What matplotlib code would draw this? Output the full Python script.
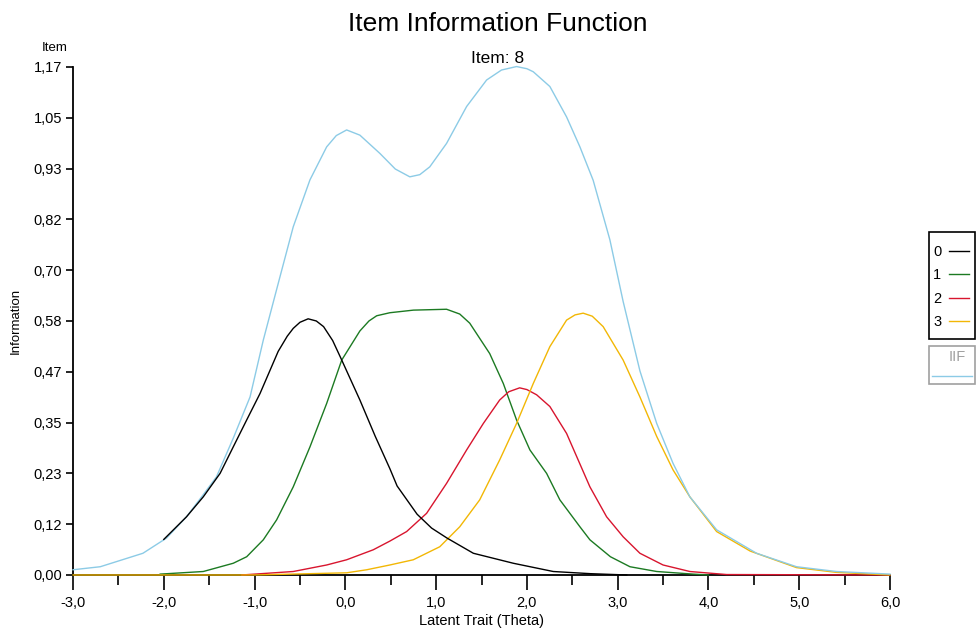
import numpy as np
import matplotlib
matplotlib.use("Agg")
import matplotlib.pyplot as plt
from matplotlib.lines import Line2D
from matplotlib.patches import Rectangle

plt.rcParams["font.family"] = ["Liberation Sans", "DejaVu Sans"]

# category information curves
theta_0 = [-2.0, -1.75, -1.565, -1.38, -1.235, -1.087, -0.94, -0.74, -0.64, -0.574, -0.5, -0.41,
           -0.32, -0.24, -0.14, -0.04, 0.16, 0.33, 0.49, 0.57, 0.79, 0.95, 1.12, 1.41, 1.85,
           2.29, 2.7, 3.1]
info_0 = [0.082, 0.134, 0.18, 0.234, 0.295, 0.357, 0.418, 0.515, 0.55, 0.568, 0.582, 0.59,
          0.585, 0.572, 0.54, 0.495, 0.403, 0.319, 0.245, 0.205, 0.14, 0.108, 0.085, 0.05, 0.027,
          0.008, 0.003, 0.0]

theta_1 = [-2.04, -1.565, -1.235, -1.087, -0.904, -0.757, -0.574, -0.39, -0.206, -0.04, 0.16,
           0.26, 0.345, 0.49, 0.75, 1.115, 1.26, 1.37, 1.59, 1.74, 1.886, 2.033, 2.217, 2.363,
           2.584, 2.694, 2.92, 3.135, 3.43, 3.83, 4.0]
info_1 = [0.002, 0.008, 0.027, 0.042, 0.081, 0.127, 0.203, 0.295, 0.395, 0.495, 0.562,
          0.585, 0.597, 0.604, 0.61, 0.612, 0.601, 0.58, 0.51, 0.441, 0.357, 0.288, 0.234, 0.173,
          0.111, 0.081, 0.042, 0.019, 0.008, 0.002, 0.0]

theta_2 = [-1.14, -0.574, -0.206, 0.014, 0.307, 0.49, 0.675, 0.895, 1.115, 1.336, 1.52, 1.70,
           1.8, 1.92, 2.0, 2.107, 2.253, 2.437, 2.694, 2.878, 3.06, 3.245, 3.5, 3.795, 4.2, 6.0]
info_2 = [0.0, 0.008, 0.023, 0.035, 0.058, 0.078, 0.1, 0.142, 0.211, 0.288, 0.349, 0.403,
          0.422, 0.431, 0.427, 0.415, 0.388, 0.326, 0.203, 0.134, 0.088, 0.05, 0.023, 0.008,
          0.001, 0.0]

theta_3 = [-3.0, -1.0, 0.014, 0.235, 0.49, 0.748, 1.04, 1.26, 1.48, 1.70, 1.886, 2.07, 2.253,
           2.437, 2.53, 2.62, 2.72, 2.84, 3.06, 3.245, 3.43, 3.61, 3.795, 4.09, 4.46, 4.97,
           5.41, 6.0]
info_3 = [0.0, 0.0, 0.005, 0.012, 0.023, 0.035, 0.065, 0.111, 0.173, 0.265, 0.349, 0.441, 0.526,
          0.587, 0.599, 0.603, 0.596, 0.572, 0.495, 0.41, 0.319, 0.242, 0.18, 0.1, 0.055, 0.017,
          0.006, 0.0]

theta_iif = [-3.0, -2.7, -2.23, -1.97, -1.75, -1.565, -1.42, -1.235, -1.05, -0.904, -0.72,
             -0.574, -0.39, -0.206, -0.1, 0.014, 0.16, 0.38, 0.55, 0.71, 0.82, 0.93, 1.115,
             1.336, 1.556, 1.72, 1.886, 2.0, 2.07, 2.253, 2.437, 2.584, 2.73, 2.914, 3.06, 3.245,
             3.43, 3.61, 3.795, 4.09, 4.53, 4.97, 5.41, 6.0]
info_iif = [0.012, 0.019, 0.05, 0.085, 0.134, 0.185, 0.226, 0.315, 0.41, 0.541, 0.687,
            0.802, 0.91, 0.986, 1.012, 1.025, 1.013, 0.971, 0.935, 0.917, 0.922, 0.94, 0.994,
            1.079, 1.14, 1.163, 1.171, 1.166, 1.159, 1.125, 1.055, 0.986, 0.909, 0.772, 0.63,
            0.47, 0.349, 0.257, 0.18, 0.104, 0.05, 0.019, 0.008, 0.002]

categories = ["0", "1", "2", "3"]
colors = ["#000000", "#1c7a22", "#d8152e", "#f2b705"]
iif_color = "#8ccbe6"

y_ticks = np.linspace(0, 1.17, 11)
y_tick_labels = ["0,00", "0,12", "0,23", "0,35", "0,47", "0,58", "0,70", "0,82", "0,93", "1,05", "1,17"]
x_ticks = [-3, -2, -1, 0, 1, 2, 3, 4, 5, 6]
x_tick_labels = ["-3,0", "-2,0", "-1,0", "0,0", "1,0", "2,0", "3,0", "4,0", "5,0", "6,0"]

fig = plt.figure(figsize=(9.79, 6.41), dpi=100)
ax = fig.add_axes([0.0746, 0.103, 0.8345, 0.7925])

series = [(theta_0, info_0), (theta_1, info_1), (theta_2, info_2), (theta_3, info_3)]
zorders = [5, 3, 3, 3]
handles = []
for (th, v), c, z, lab in zip(series, colors, zorders, categories):
    h, = ax.plot(th, v, color=c, lw=1.0, zorder=z, label=lab, clip_on=False)
    handles.append(h)
ax.plot(theta_iif, info_iif, color=iif_color, lw=1.0, zorder=4, clip_on=False)

ax.set_xlim(-3, 6)
ax.set_ylim(0, 1.17)
ax.set_yticks(y_ticks)
ax.set_yticklabels(y_tick_labels)
ax.set_xticks(x_ticks)
ax.set_xticklabels(x_tick_labels)
ax.set_xticks(np.arange(-2.5, 6, 1.0), minor=True)
ax.tick_params(axis="x", which="major", direction="out", length=11, width=1.2, labelsize=10.5, pad=4)
ax.tick_params(axis="x", which="minor", direction="out", length=7, width=1.2)
ax.tick_params(axis="y", direction="out", length=5, width=1.2, labelsize=10.5, pad=3)
for s in ["top", "right"]:
    ax.spines[s].set_visible(False)
for s in ["left", "bottom"]:
    ax.spines[s].set_linewidth(1.3)

ax.set_xlabel("Latent Trait (Theta)", fontsize=10.5, labelpad=3)
ax.set_ylabel("Information", fontsize=9.5, labelpad=8)

fig.text(0.508, 0.962, "Item Information Function", ha="center", va="center", fontsize=19)
fig.text(0.508, 0.909, "Item: 8", ha="center", va="center", fontsize=12.5)
fig.text(0.056, 0.925, "Item", ha="center", va="center", fontsize=9.5)

# category legend (frame drawn separately to get the narrow box)
fig.legend(handles=handles, loc="upper left", bbox_to_anchor=(933 / 979, 1 - 245 / 641),
           markerfirst=False, handlelength=1.35, handletextpad=0.55, labelspacing=0.65,
           fontsize=10.5, frameon=False, borderpad=0, borderaxespad=0)
fig.patches.append(Rectangle((929 / 979, 1 - 339 / 641), 46 / 979, 107 / 641,
                             transform=fig.transFigure, fill=False, edgecolor="black", lw=1.2))

# IIF legend box
fig.patches.append(Rectangle((929 / 979, 1 - 384 / 641), 46 / 979, 38 / 641,
                             transform=fig.transFigure, fill=False, edgecolor="#a0a0a0", lw=1.2))
fig.text(957 / 979, 1 - 357 / 641, "IIF", ha="center", va="center", fontsize=10.5, color="#a0a0a0")
fig.lines.append(Line2D([932 / 979, 972 / 979], [1 - 376 / 641, 1 - 376 / 641],
                        transform=fig.transFigure, color=iif_color, lw=1.0))

fig.savefig("out.png", dpi=100)
